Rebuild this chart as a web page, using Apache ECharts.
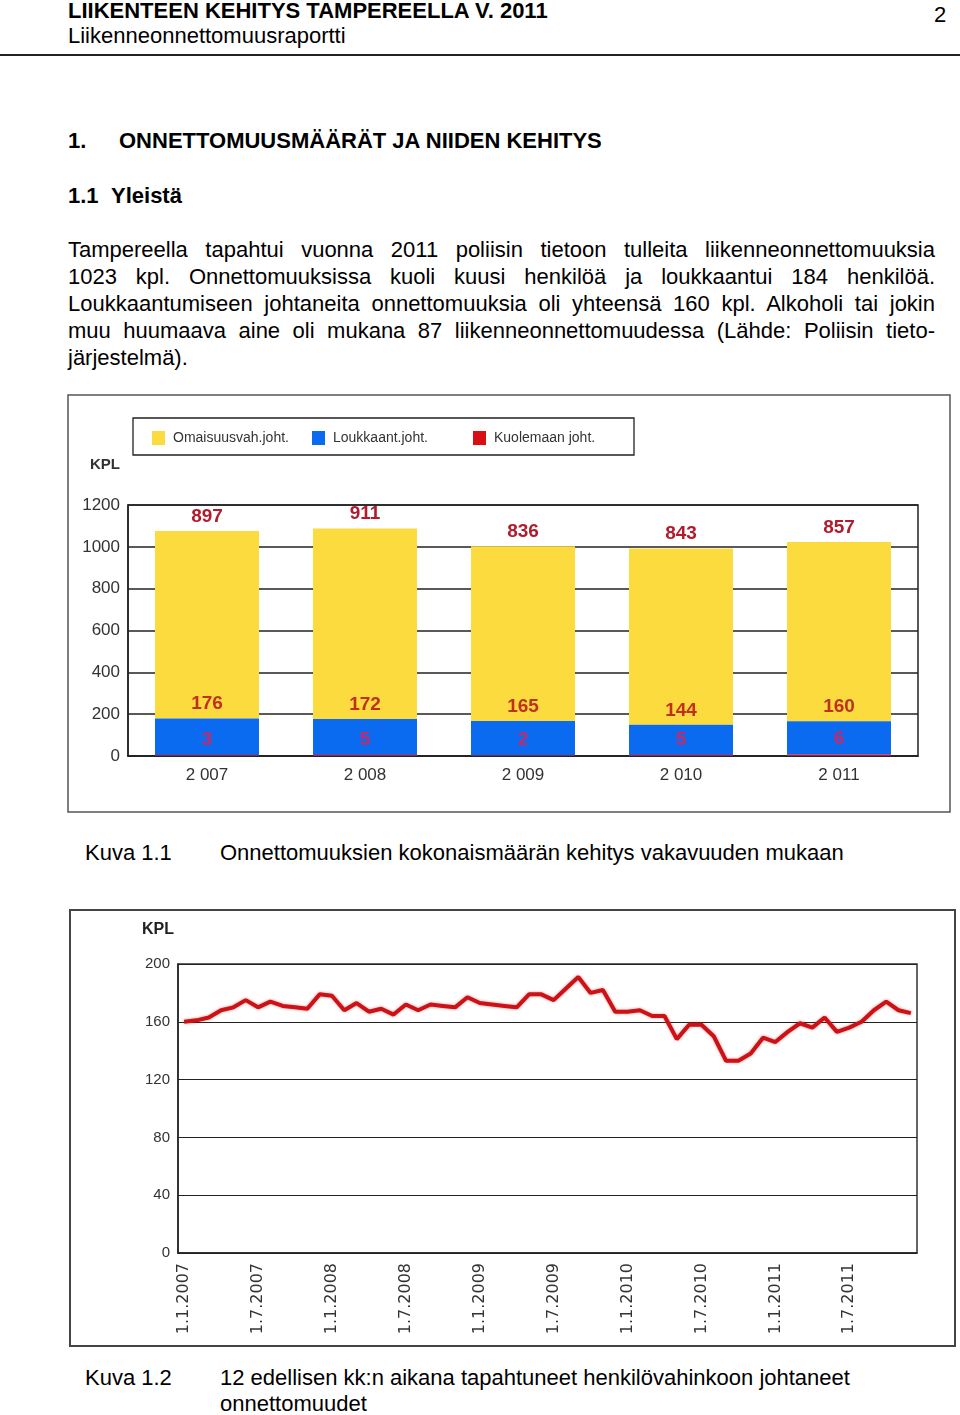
<!DOCTYPE html>
<html>
<head>
<meta charset="utf-8">
<script src="https://cdn.jsdelivr.net/npm/echarts@6/dist/echarts.min.js"></script>
<style>
  html, body { margin:0; padding:0; background:#fff; }
  body { width:960px; height:1415px; position:relative; overflow:hidden;
         font-family:"Liberation Sans", Arial, sans-serif; color:#000; }
  .t { position:absolute; font-size:22px; line-height:27px; white-space:nowrap; }
  .b { font-weight:bold; }
  .rule { position:absolute; left:0; top:54px; width:960px; height:2px; background:#222; }
  .para { position:absolute; left:68px; top:236px; width:867px; font-size:22px; line-height:27px; }
  .para div { text-align:justify; text-align-last:justify; white-space:nowrap; }
  .para div.last { text-align-last:left; }
  #c1 { position:absolute; left:67px; top:394px; width:884px; height:420px; }
  #c2 { position:absolute; left:69px; top:909px; width:888px; height:439px; }
</style>
</head>
<body>
<div class="t b" style="left:68px;top:-3px;">LIIKENTEEN KEHITYS TAMPEREELLA V. 2011</div>
<div class="t" style="left:934px;top:1px;">2</div>
<div class="t" style="left:68px;top:22px;">Liikenneonnettomuusraportti</div>
<div class="rule"></div>
<div class="t b" style="left:68px;top:127px;">1.</div>
<div class="t b" style="left:119px;top:127px;">ONNETTOMUUSMÄÄRÄT JA NIIDEN KEHITYS</div>
<div class="t b" style="left:68px;top:182px;">1.1</div>
<div class="t b" style="left:111px;top:182px;">Yleistä</div>
<div class="para">
  <div>Tampereella tapahtui vuonna 2011 poliisin tietoon tulleita liikenneonnettomuuksia</div>
  <div>1023 kpl. Onnettomuuksissa kuoli kuusi henkilöä ja loukkaantui 184 henkilöä.</div>
  <div>Loukkaantumiseen johtaneita onnettomuuksia oli yhteensä 160 kpl. Alkoholi tai jokin</div>
  <div>muu huumaava aine oli mukana 87 liikenneonnettomuudessa (Lähde: Poliisin tieto-</div>
  <div class="last">järjestelmä).</div>
</div>
<div id="c1"></div>
<div class="t" style="left:85px;top:839px;">Kuva 1.1</div>
<div class="t" style="left:220px;top:839px;">Onnettomuuksien kokonaismäärän kehitys vakavuuden mukaan</div>
<div id="c2"></div>
<div class="t" style="left:85px;top:1364px;">Kuva 1.2</div>
<div class="t" style="left:220px;top:1364px;">12 edellisen kk:n aikana tapahtuneet henkilövahinkoon johtaneet</div>
<div class="t" style="left:220px;top:1390px;">onnettomuudet</div>

<script>
// ---- Chart 1 data ----
const years = ['2 007', '2 008', '2 009', '2 010', '2 011'];
const omaisuusvah = [897, 911, 836, 843, 857];
const loukkaant = [176, 172, 165, 144, 160];
const kuolemaan = [3, 5, 2, 5, 6];
const seriesNames1 = ['Omaisuusvah.joht.', 'Loukkaant.joht.', 'Kuolemaan joht.'];

// ---- Chart 2 data (12-month rolling count, monthly Jan 2007 - Dec 2011) ----
const rollingCounts = [
  160, 161, 163, 168, 170, 175, 170, 174, 171, 170, 169, 179,
  178, 168, 173, 167, 169, 165, 172, 168, 172, 171, 170, 177,
  173, 172, 171, 170, 179, 179, 175, 183, 191, 180, 182, 167,
  167, 168, 164, 164, 148, 158, 158, 150, 133, 133, 138, 149,
  146, 153, 159, 156, 163, 153, 156, 160, 168, 174, 168, 166
];
const monthYears = [2007, 2008, 2009, 2010, 2011];
const months = [];
monthYears.forEach(y => { for (let m = 1; m <= 12; m++) months.push('1.' + m + '.' + y); });

const AXIS_FONT = '"Liberation Sans", Arial, sans-serif';

// ---------------- Chart 1 ----------------
const c1 = echarts.init(document.getElementById('c1'), null, { renderer: 'canvas' });
const labelStyle = (color, dist) => ({
  show: true, position: 'top', distance: dist, color: color,
  fontSize: 19, fontWeight: 'bold', fontFamily: AXIS_FONT
});
const legendText = { fontSize: 14, color: '#333', fontFamily: AXIS_FONT, padding: [0, 0, 0, 3] };
c1.setOption({
  backgroundColor: '#fff',
  animation: false,
  color: ['#FBDB3E', '#0B6BF0', '#D80F12'],
  graphic: [
    { type: 'rect', shape: { x: 1, y: 1, width: 882, height: 417 },
      style: { fill: 'none', stroke: '#555', lineWidth: 1.5 } },
    { type: 'rect', shape: { x: 66, y: 24, width: 501, height: 37 },
      style: { fill: '#fff', stroke: '#222', lineWidth: 1.3 }, z: 0 },
    { type: 'text', left: 23, top: 63,
      style: { text: 'KPL', font: 'bold 15px ' + AXIS_FONT, fill: '#333' } }
  ],
  legend: [
    { data: [seriesNames1[0]], left: 80, top: 32, itemWidth: 13, itemHeight: 14, icon: 'rect', textStyle: legendText },
    { data: [seriesNames1[1]], left: 240, top: 32, itemWidth: 13, itemHeight: 14, icon: 'rect', textStyle: legendText },
    { data: [seriesNames1[2]], left: 401, top: 32, itemWidth: 13, itemHeight: 14, icon: 'rect', textStyle: legendText }
  ],
  grid: { left: 61, top: 111, width: 790, height: 251, show: true,
          borderColor: '#222', borderWidth: 1.5, backgroundColor: '#fff' },
  xAxis: {
    type: 'category', data: years,
    axisLine: { lineStyle: { color: '#222', width: 1.5 } },
    axisTick: { show: false },
    axisLabel: { color: '#333', fontSize: 17, margin: 11, fontFamily: AXIS_FONT }
  },
  yAxis: {
    type: 'value', min: 0, max: 1200, interval: 200,
    axisLine: { show: true, lineStyle: { color: '#222', width: 1.5 } },
    axisTick: { show: false },
    axisLabel: { color: '#333', fontSize: 17, margin: 8, fontFamily: AXIS_FONT,
                 formatter: v => String(v) },
    splitLine: { lineStyle: { color: '#222', width: 1.5 } }
  },
  series: [
    { name: seriesNames1[2], type: 'bar', stack: 'tot', data: kuolemaan, barWidth: 104, z: 4,
      itemStyle: { color: '#D80F12' }, label: labelStyle('#C42A6A', 6) },
    { name: seriesNames1[1], type: 'bar', stack: 'tot', data: loukkaant, barWidth: 104, z: 3,
      itemStyle: { color: '#0B6BF0' }, label: labelStyle('#C0301E', 5) },
    { name: seriesNames1[0], type: 'bar', stack: 'tot', data: omaisuusvah, barWidth: 104, z: 2,
      itemStyle: { color: '#FBDB3E' }, label: labelStyle('#B01C2E', 5) }
  ]
});

// ---------------- Chart 2 ----------------
const c2 = echarts.init(document.getElementById('c2'), null, { renderer: 'canvas' });
c2.setOption({
  backgroundColor: '#fff',
  animation: false,
  graphic: [
    { type: 'rect', shape: { x: 1, y: 1, width: 885, height: 436 },
      style: { fill: 'none', stroke: '#444', lineWidth: 2 } },
    { type: 'text', left: 73, top: 13,
      style: { text: 'KPL', font: 'bold 16px ' + AXIS_FONT, fill: '#222' } }
  ],
  grid: { left: 109, top: 55, width: 739, height: 289, show: true,
          borderColor: '#333', borderWidth: 1.5 },
  xAxis: {
    type: 'category', data: months, boundaryGap: true,
    axisLine: { lineStyle: { color: '#222', width: 1.5 } },
    axisTick: { show: false },
    axisLabel: { interval: 5, rotate: 90, color: '#333', fontSize: 16, margin: 10,
                 fontFamily: '"DejaVu Sans", Verdana, sans-serif' }
  },
  yAxis: {
    type: 'value', min: 0, max: 200, interval: 40,
    axisLine: { show: true, lineStyle: { color: '#222', width: 1.5 } },
    axisTick: { show: false },
    axisLabel: { color: '#333', fontSize: 15, margin: 8, fontFamily: AXIS_FONT },
    splitLine: { lineStyle: { color: '#222', width: 1.2 } }
  },
  series: [{
    type: 'line', data: rollingCounts, symbol: 'none', smooth: false,
    lineStyle: { color: '#CC1216', width: 4, shadowColor: 'rgba(200,20,20,0.45)', shadowBlur: 3 }
  }]
});
</script>
</body>
</html>
